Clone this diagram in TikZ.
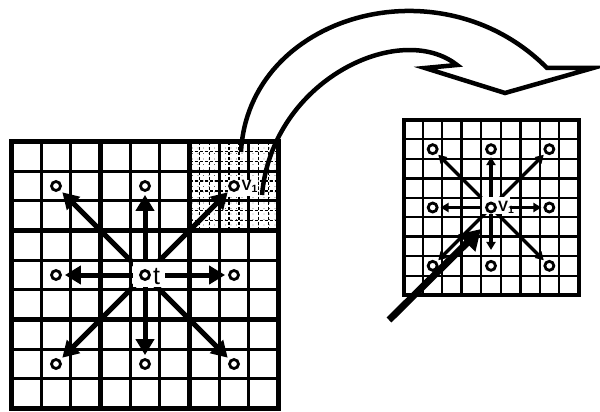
\documentclass[tikz,border=0pt]{standalone}
\usepackage{fontspec}
\setmainfont{Liberation Sans}
\usetikzlibrary{positioning,arrows.meta,patterns.meta}

\begin{document}
\begin{tikzpicture}[
  x=1pt, y=-1pt,
  dot/.style = {circle, draw, line width=2.8pt, minimum size=9pt, inner sep=0pt, fill=white},
  whitebox/.style = {fill=white, inner sep=0pt},
  bigarr/.style = {line width=5pt, -{Triangle[length=16pt,width=18pt]}, shorten >=3pt},
  smallarr/.style = {line width=3.2pt, -{Triangle[length=8pt,width=9pt]}, shorten >=2pt},
  hugearr/.style = {line width=7pt, -{Triangle[length=20pt,width=23pt]}},
  vlabel/.style = {font=\bfseries\fontsize{15}{15}\selectfont, inner sep=0pt},
  tlabel/.style = {font=\fontsize{25}{25}\selectfont, inner sep=0pt},
  subline/.style = {line width=1.3pt, dash pattern=on 3pt off 2pt}
]
  \useasboundingbox (0,0) rectangle (600,412);

  % left grid
  \begin{scope}[shift={(11.5,141.5)}]
    \fill[pattern={Dots[distance=5.5pt,radius=0.45pt]}] (178,0) rectangle (267,89);
    \foreach \k in {1,2,4,5,7,8} {
      \draw[subline] (178+9.89*\k,0) -- (178+9.89*\k,89);
      \draw[subline] (178,9.89*\k) -- (267,9.89*\k);
    }
    \foreach \k in {1,2,4,5,7,8} {
      \draw[line width=3pt] (29.67*\k,0) -- (29.67*\k,267);
      \draw[line width=3pt] (0,29.67*\k) -- (267,29.67*\k);
    }
    \foreach \k in {3,6} {
      \draw[line width=4.5pt] (29.67*\k,0) -- (29.67*\k,267);
      \draw[line width=4.5pt] (0,29.67*\k) -- (267,29.67*\k);
    }
    \draw[line width=5.5pt] (0,0) rectangle (267,267);

    \coordinate (c1) at (133.5,133.5);
    \node[dot] (nw1) at (44.5,44.5) {};
    \node[dot] (n1)  at (133.5,44.5) {};
    \node[dot] (ne1) at (222.5,44.5) {};
    \node[dot] (w1)  at (44.5,133.5) {};
    \node[dot] (e1)  at (222.5,133.5) {};
    \node[dot] (sw1) at (44.5,222.5) {};
    \node[dot] (s1)  at (133.5,222.5) {};
    \node[dot] (se1) at (222.5,222.5) {};
  \end{scope}

  \foreach \nb in {nw1,n1,ne1,w1,e1,sw1,s1,se1}
    \draw[bigarr] (c1) -- (\nb);

  \node[whitebox, minimum width=32pt, minimum height=25pt] (tbox) at (149,274.5) {};
  \node[dot] (c1dot) at (c1) {};
  \node[tlabel, right=2pt of c1dot, yshift=-2pt] (tname) {t};
  \node[whitebox, minimum width=30pt, minimum height=16pt] (vbox1) at (243,187.5) {};
  \node[dot] at (ne1) {};
  \node[vlabel, right=1.5pt of ne1] (vname1) {V\textsubscript{1}};

  % curved block arrow
  \draw[line width=4.5pt]
    (241,152) .. controls (248,15) and (440,-40) .. (547,68)
    -- (593,68) -- (505,93) -- (425,68) -- (457,65)
    .. controls (400,20) and (272,80) .. (262,195);

  % right grid
  \begin{scope}[shift={(403.5,120)}]
    \foreach \k in {1,2,4,5,7,8} {
      \draw[line width=2pt] (19.44*\k,0) -- (19.44*\k,175);
      \draw[line width=2pt] (0,19.44*\k) -- (175,19.44*\k);
    }
    \foreach \k in {3,6} {
      \draw[line width=3pt] (19.44*\k,0) -- (19.44*\k,175);
      \draw[line width=3pt] (0,19.44*\k) -- (175,19.44*\k);
    }
    \draw[line width=4pt] (0,0) rectangle (175,175);

    \coordinate (c2) at (87.5,87.5);
    \node[dot] (nw2) at (29.17,29.17) {};
    \node[dot] (n2)  at (87.5,29.17) {};
    \node[dot] (ne2) at (145.83,29.17) {};
    \node[dot] (w2)  at (29.17,87.5) {};
    \node[dot] (e2)  at (145.83,87.5) {};
    \node[dot] (sw2) at (29.17,145.83) {};
    \node[dot] (s2)  at (87.5,145.83) {};
    \node[dot] (se2) at (145.83,145.83) {};
  \end{scope}

  \foreach \nb in {nw2,n2,ne2,w2,e2,sw2,se2}
    \draw[smallarr] (c2) -- (\nb);
  \draw[smallarr, shorten >=10pt] (c2) -- (s2);

  \node[whitebox, minimum width=28pt, minimum height=17pt] (vbox2) at (496,205.5) {};
  \node[dot] (c2dot) at (c2) {};
  \node[vlabel, right=1pt of c2dot] (vname2) {V\textsubscript{1}};

  \coordinate (bigtail) at (389,320);
  \coordinate (bighead) at (481,229);
  \draw[hugearr] (bigtail) -- (bighead);
\end{tikzpicture}
\end{document}
